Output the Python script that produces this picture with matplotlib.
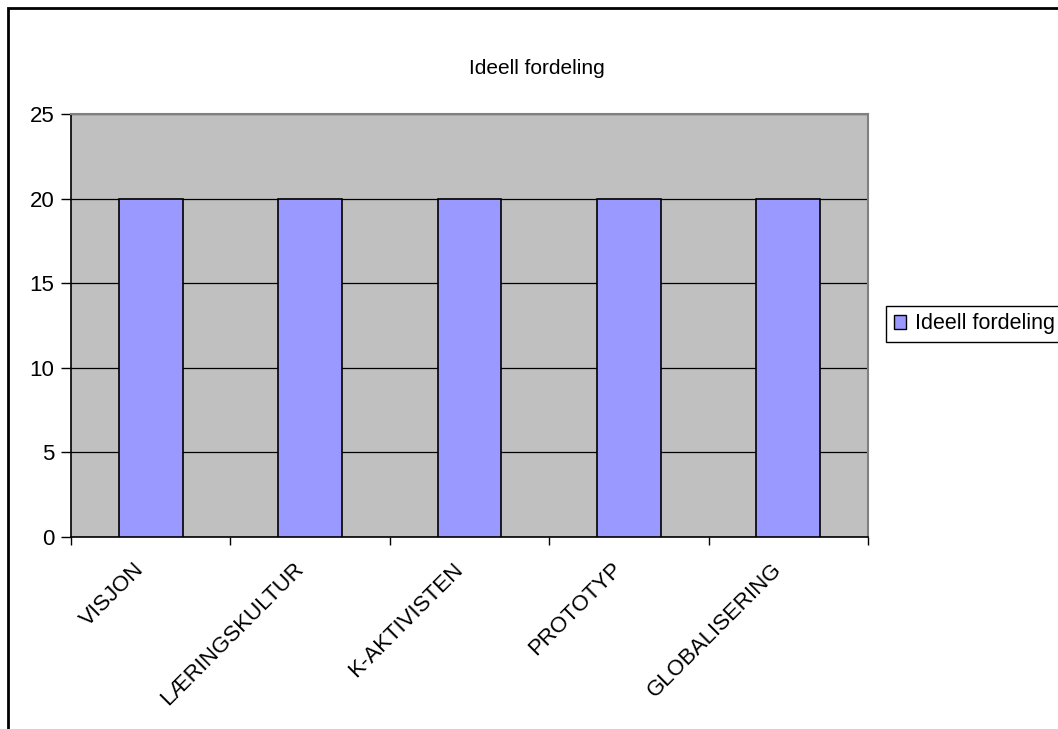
import matplotlib.pyplot as plt
from matplotlib.patches import Rectangle, Patch
from matplotlib.transforms import ScaledTranslation
import numpy as np

plt.rcParams["font.family"] = ["Liberation Sans", "DejaVu Sans"]

categories = ["VISJON", "LÆRINGSKULTUR", "K-AKTIVISTEN", "PROTOTYP", "GLOBALISERING"]
values = [20, 20, 20, 20, 20]
series_name = "Ideell fordeling"
y_ticks = [0, 5, 10, 15, 20, 25]

W, H = 1058, 729
fig = plt.figure(figsize=(W / 100, H / 100), dpi=100)
ax = fig.add_axes([71 / W, 1 - 537 / H, (868 - 71) / W, (537 - 114) / H])

x = np.arange(len(categories))
ax.set_facecolor("#C0C0C0")
ax.set_axisbelow(True)
ax.yaxis.grid(True, color="black", linewidth=0.9)
ax.bar(x, values, width=0.4, color="#9999FF", edgecolor="black", linewidth=1.2, zorder=3)

ax.set_xlim(-0.5, len(categories) - 0.5)
ax.set_ylim(0, 25)
ax.set_yticks(y_ticks)
ax.tick_params(axis="y", direction="out", length=7, width=1, labelsize=16, pad=5)

# ticks between categories, labels at centers
ax.set_xticks(np.arange(len(categories) + 1) - 0.5)
ax.set_xticklabels([])
ax.tick_params(axis="x", direction="out", length=6, width=1)
ax.set_xticks(x, minor=True)
ax.set_xticklabels(categories, minor=True, rotation=45, ha="right", va="center",
                   rotation_mode="anchor", fontsize=16)
ax.tick_params(axis="x", which="minor", length=0, pad=21)
shift = ScaledTranslation(-10 / 100, 0, fig.dpi_scale_trans)
for lbl in ax.get_xticklabels(minor=True):
    lbl.set_transform(lbl.get_transform() + shift)

for side in ["top", "right"]:
    ax.spines[side].set_color("#808080")
    ax.spines[side].set_linewidth(1.5)
for side in ["left", "bottom"]:
    ax.spines[side].set_color("black")
    ax.spines[side].set_linewidth(1.2)

fig.text(537 / W, 1 - 68 / H, "Ideell fordeling", ha="center", va="center", fontsize=15)

handle = Patch(facecolor="#9999FF", edgecolor="black", linewidth=1)
fig.legend([handle], [series_name], loc="center left",
           bbox_to_anchor=(886 / W, 1 - 324 / H), fontsize=15.5, frameon=True,
           fancybox=False, edgecolor="black", framealpha=1, borderpad=0.35,
           handlelength=0.6, handleheight=0.6, handletextpad=0.4, borderaxespad=0)

# outer chart frame
fig.patches.append(Rectangle((8 / W, -0.1), 1.2, 1 - 8 / H + 0.1, transform=fig.transFigure,
                             fill=False, edgecolor="black", linewidth=2))

fig.savefig("out.png", dpi=100)
